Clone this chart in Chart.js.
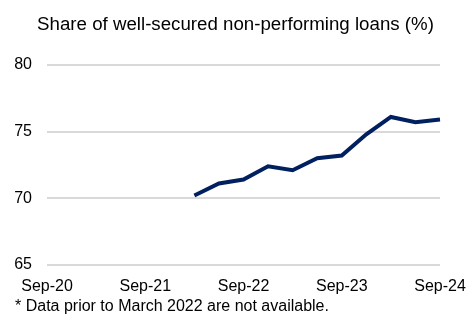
<!DOCTYPE html>
<html>
<head>
<meta charset="utf-8">
<script src="https://cdn.jsdelivr.net/npm/chart.js@4/dist/chart.umd.min.js"></script>
<style>
  html, body { margin: 0; padding: 0; background: #fff; }
  #wrap { position: relative; width: 471px; height: 335px; overflow: hidden; }
  #chart { position: absolute; left: 0; top: 0; }
  .txt { position: absolute; font-family: "Liberation Sans", Arial, sans-serif; color: #000; white-space: nowrap; }
  #title { left: 0; width: 471px; top: 13px; text-align: center; font-size: 18.7px; line-height: 22px; }
  #note { left: 15px; top: 296px; font-size: 16px; line-height: 19px; }
</style>
</head>
<body>
<div id="wrap">
  <canvas id="chart" width="471" height="335"></canvas>
  <div id="title" class="txt">Share of well-secured non-performing loans (%)</div>
  <div id="note" class="txt">* Data prior to March 2022 are not available.</div>
</div>
<script>
// quarterly categories, Sep-20 to Sep-24
const quarters = [
  'Sep-20', 'Dec-20', 'Mar-21', 'Jun-21',
  'Sep-21', 'Dec-21', 'Mar-22', 'Jun-22',
  'Sep-22', 'Dec-22', 'Mar-23', 'Jun-23',
  'Sep-23', 'Dec-23', 'Mar-24', 'Jun-24',
  'Sep-24'
];

// share of well-secured NPLs (%), not available before Mar-22
const wellSecuredShare = [
  null, null, null, null,
  null, null, 70.2, 71.1,
  71.4, 72.4, 72.1, 73.0,
  73.2, 74.8, 76.1, 75.7,
  75.9
];

const yTicks = [65, 70, 75, 80];

const font = { family: '"Liberation Sans", Arial, sans-serif', size: 16 };

new Chart(document.getElementById('chart').getContext('2d'), {
  type: 'line',
  data: {
    labels: quarters,
    datasets: [{
      label: 'Well-secured share',
      data: wellSecuredShare,
      borderColor: '#002060',
      backgroundColor: '#002060',
      borderWidth: 4,
      pointRadius: 0,
      tension: 0,
      spanGaps: false
    }]
  },
  options: {
    responsive: false,
    animation: false,
    layout: { padding: { top: 65, left: 15, right: 31, bottom: 27 } },
    plugins: {
      legend: { display: false },
      tooltip: { enabled: false }
    },
    scales: {
      x: {
        offset: false,
        // labels may overhang the plot edges, like the original
        afterFit: function(scale) {
          scale.paddingLeft = 0;
          scale.paddingRight = 0;
        },
        grid: { display: false, drawTicks: false },
        border: { display: false },
        ticks: {
          autoSkip: false,
          maxRotation: 0,
          padding: 12,
          color: '#000',
          font: font,
          callback: function(value, index) {
            const lab = quarters[index];
            return lab.startsWith('Sep') ? lab : '';
          }
        }
      },
      y: {
        min: yTicks[0],
        max: yTicks[yTicks.length - 1],
        afterFit: function(scale) { scale.width = 32; },
        afterBuildTicks: function(scale) {
          scale.ticks = yTicks.map(v => ({ value: v }));
        },
        grid: { color: '#d9d9d9', lineWidth: 2, drawTicks: false },
        border: { display: false },
        ticks: {
          padding: 15,
          color: '#000',
          font: font
        }
      }
    }
  }
});
</script>
</body>
</html>
